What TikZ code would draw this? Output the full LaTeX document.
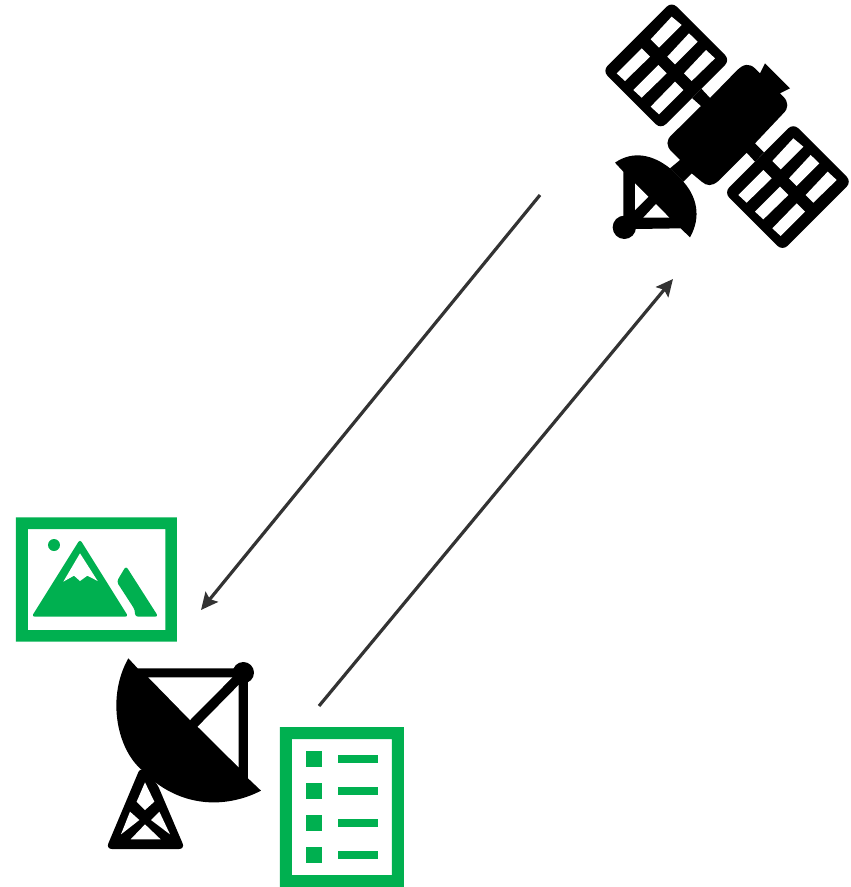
\documentclass[tikz,border=0pt]{standalone}
\usetikzlibrary{arrows.meta}
\definecolor{docgreen}{HTML}{00B050}
\definecolor{linkgrey}{HTML}{333333}
\tikzset{
  ink/.style={fill=black,draw=none},
  hole/.style={fill=white,draw=none},
  greenfill/.style={fill=docgreen,draw=none},
  link/.style={draw=linkgrey,line width=3.2pt,-{Stealth[length=17pt,width=16pt,inset=3pt]}},
}
\newcommand{\solarpanel}[1]{%
  \begin{scope}[shift={(#1)}]
    \fill[ink,rounded corners=7pt] (245,5) -- (420,180) -- (212.5,387.5) -- (37.5,212.5) -- cycle;
    \fill[hole] (245,50) -- (275,75) -- (207,143) -- (182,118) -- cycle;
    \fill[hole] (297,100) -- (323,125) -- (255,193) -- (232,170) -- cycle;
    \fill[hole] (348,150) -- (375,175) -- (305,243) -- (282,220) -- cycle;
    \fill[hole] (155,145) -- (180,170) -- (105,243) -- (80,220) -- cycle;
    \fill[hole] (205,195) -- (230,220) -- (155,293) -- (130,270) -- cycle;
    \fill[hole] (255,245) -- (280,270) -- (207,343) -- (182,320) -- cycle;
  \end{scope}}
\begin{document}
\begin{tikzpicture}[x=1pt,y=-1pt]
\useasboundingbox (0,0) rectangle (851,887);
% satellite
\begin{scope}[shift={(590,0)},scale=1/3]
  \solarpanel{0,0}
  \solarpanel{365,365}
  % body with arms
  \fill[ink] (334,266) -- (360,294) -- (440,212) .. controls (462,190) and (478,190) .. (495,205) -- (510,220) -- (525,190) -- (600,265) -- (570,280)
     -- (580,290) .. controls (596,306) and (596,325) .. (580,340) -- (495,430) -- (522,457) -- (495,485) -- (470,458)
     -- (385,543) .. controls (365,560) and (350,558) .. (335,545) -- (305,520) -- (280,545) -- (240,505) -- (270,480)
     -- (245,455) .. controls (228,438) and (228,420) .. (245,405) -- (333,318) -- (306,294) -- cycle;
  % dish
  \fill[ink] (75,488) .. controls (130,450) and (190,465) .. (240,505) -- (280,545)
     .. controls (320,590) and (335,650) .. (300,712) -- (272,685) -- (135,687) -- (100,650) -- (100,515) -- cycle;
  \fill[ink] (103,682) circle (35);
  \fill[hole] (135,550) -- (175,590) -- (135,630) -- cycle;
  \fill[hole] (198,612) -- (238,653) -- (160,653) -- cycle;
\end{scope}
% ground antenna
\begin{scope}[shift={(100,650)},scale=1/3]
  \fill[ink,rounded corners=6pt] (122,350) -- (18,597) -- (255,597) -- (170,398) -- cycle;
  \fill[hole] (135,397) -- (163,455) -- (135,480) -- (110,455) -- cycle;
  \fill[hole] (90,485) -- (118,510) -- (63,553) -- cycle;
  \fill[hole] (178,485) -- (210,553) -- (153,510) -- cycle;
  \fill[hole] (135,523) -- (182,568) -- (92,568) -- cycle;
  \fill[ink] (85,25) -- (113,55) -- (444,55) -- (444,385) -- (483,422)
     .. controls (400,465) and (280,480) .. (170,400) -- (120,355)
     .. controls (50,290) and (20,140) .. cycle;
  \fill[ink] (430,68) circle (32);
  \fill[hole] (145,82) -- (397,82) -- (270,210) -- cycle;
  \fill[hole] (416,105) -- (416,352) -- (293,230) -- cycle;
\end{scope}
% image icon
\begin{scope}[shift={(0,510)},scale=1/3]
  \fill[greenfill,even odd rule] (48,22) rectangle (531,395) (84,57) rectangle (496,360);
  \fill[greenfill] (162,105) circle (18);
  \fill[greenfill,rounded corners=3pt] (240,88) -- (385,320) -- (95,320) -- cycle;
  \fill[hole] (240,130) -- (293,213) -- (262,197) -- (240,213) -- (222,197) -- (190,215) -- cycle;
  \fill[greenfill,rounded corners=3pt] (378,168) -- (475,320) -- (405,320) -- (405,300) -- (350,215) -- cycle;
\end{scope}
% list icon
\begin{scope}[shift={(100,650)},scale=1/3]
  \fill[greenfill,even odd rule] (540,231) rectangle (912,711) (576,267) rectangle (876,675);
  \foreach \k in {0,96,192,288}{
    \fill[greenfill] (618,303+\k) rectangle (666,351+\k);
    \fill[greenfill] (714,315+\k) rectangle (834,339+\k);
  }
\end{scope}
% connectors
\coordinate (downstart) at (540,195);
\coordinate (downend) at (201,610);
\coordinate (upstart) at (319,706);
\coordinate (upend) at (673,279);
\draw[link] (downstart) -- (downend);
\draw[link] (upstart) -- (upend);
\end{tikzpicture}
\end{document}
